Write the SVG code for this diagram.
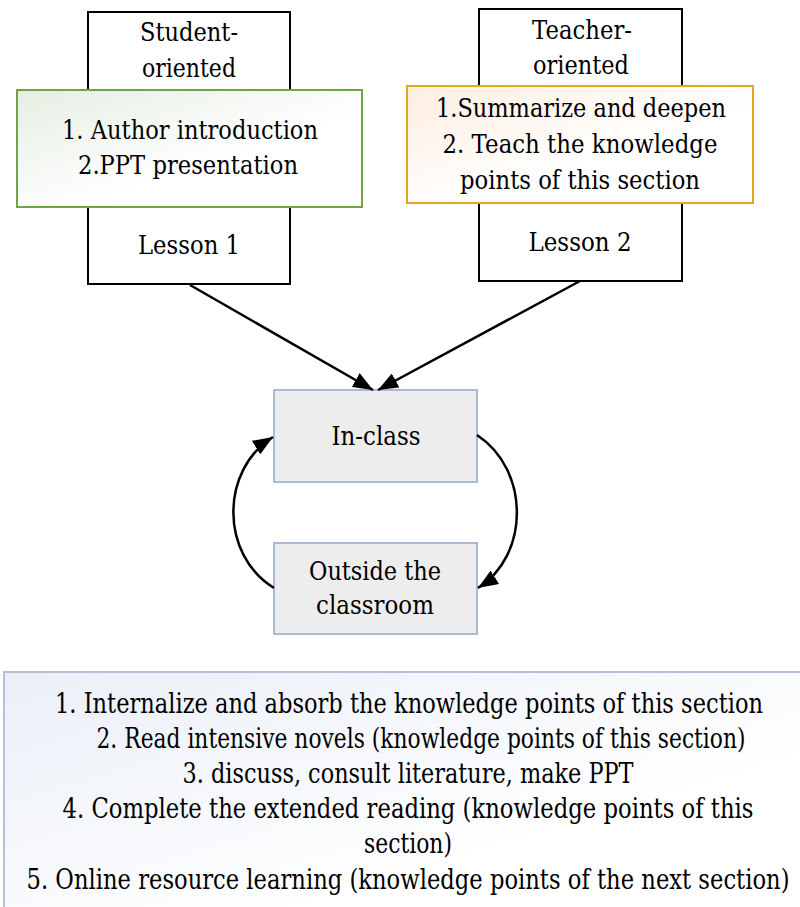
<svg xmlns="http://www.w3.org/2000/svg" width="800" height="907" viewBox="0 0 800 907">
<defs>
<linearGradient id="gGreen" x1="0" y1="0" x2="1" y2="1"><stop offset="0" stop-color="#e6eee2"/><stop offset="0.6" stop-color="#ffffff"/></linearGradient>
<linearGradient id="gOrange" x1="0" y1="0" x2="1" y2="1"><stop offset="0" stop-color="#fdeee0"/><stop offset="0.6" stop-color="#ffffff"/></linearGradient>
<linearGradient id="gBlue" x1="0" y1="0" x2="1" y2="1"><stop offset="0" stop-color="#eaeff7"/><stop offset="0.7" stop-color="#ffffff"/></linearGradient>
<marker id="ah2" viewBox="0 0 20 16" refX="20" refY="8" markerWidth="20" markerHeight="16" markerUnits="userSpaceOnUse" orient="auto">
<path d="M0,0 L20,8 L0,16 z" fill="#000"/>
</marker>
</defs>
<style>
text{font-family:'DejaVu Serif','Liberation Serif','Noto Serif',serif;font-size:26px;fill:#000;text-anchor:middle}
.blk{fill:#fff;stroke:#000;stroke-width:2}
.grey{fill:#ededed;stroke:#aabad3;stroke-width:2}
.con{fill:none;stroke:#000;stroke-width:2.5}
text.bt{font-size:27px}
</style>
<g id="student">
<rect class="blk" x="88" y="12" width="202" height="272"/>
<rect x="17" y="90" width="345" height="117" fill="url(#gGreen)" stroke="#6ea548" stroke-width="2"/>
<text x="189" y="41" textLength="98" lengthAdjust="spacingAndGlyphs">Student-</text>
<text x="189" y="77" textLength="94" lengthAdjust="spacingAndGlyphs">oriented</text>
<text x="190" y="139" textLength="256" lengthAdjust="spacingAndGlyphs">1. Author introduction</text>
<text x="188" y="174" textLength="220" lengthAdjust="spacingAndGlyphs">2.PPT presentation</text>
<text x="189" y="254" textLength="102" lengthAdjust="spacingAndGlyphs">Lesson 1</text>
</g>
<g id="teacher">
<rect class="blk" x="479" y="9" width="203" height="272"/>
<rect x="407" y="86" width="346" height="117" fill="url(#gOrange)" stroke="#e3a91c" stroke-width="2"/>
<text x="582" y="39" textLength="100" lengthAdjust="spacingAndGlyphs">Teacher-</text>
<text x="581" y="74" textLength="96" lengthAdjust="spacingAndGlyphs">oriented</text>
<text x="581" y="117" textLength="290" lengthAdjust="spacingAndGlyphs">1.Summarize and deepen</text>
<text x="580" y="153" textLength="275" lengthAdjust="spacingAndGlyphs">2. Teach the knowledge</text>
<text x="580" y="189" textLength="240" lengthAdjust="spacingAndGlyphs">points of this section</text>
<text x="580" y="251" textLength="103" lengthAdjust="spacingAndGlyphs">Lesson 2</text>
</g>
<g id="inclass">
<rect class="grey" x="274" y="390" width="203" height="92"/>
<text x="376" y="445" textLength="89" lengthAdjust="spacingAndGlyphs">In-class</text>
</g>
<g id="outside">
<rect class="grey" x="274" y="543" width="203" height="91"/>
<text x="375" y="580" textLength="132" lengthAdjust="spacingAndGlyphs">Outside the</text>
<text x="375" y="614" textLength="118" lengthAdjust="spacingAndGlyphs">classroom</text>
</g>
<g id="connectors">
<line class="con" x1="190" y1="285" x2="373" y2="390" marker-end="url(#ah2)"/>
<line class="con" x1="580" y1="281" x2="378" y2="390" marker-end="url(#ah2)"/>
<path class="con" d="M477,435 C530,470 530,555 478,588" marker-end="url(#ah2)"/>
<path class="con" d="M274,588 C220,555 220,470 273,437" marker-end="url(#ah2)"/>
</g>
<g id="notes">
<rect x="4" y="672" width="800" height="240" fill="url(#gBlue)" stroke="#b3c2da" stroke-width="2"/>
<text class="bt" x="409" y="713" textLength="708" lengthAdjust="spacingAndGlyphs">1. Internalize and absorb the knowledge points of this section</text>
<text class="bt" x="421" y="748" textLength="649" lengthAdjust="spacingAndGlyphs">2. Read intensive novels (knowledge points of this section)</text>
<text class="bt" x="408" y="783" textLength="451" lengthAdjust="spacingAndGlyphs">3. discuss, consult literature, make PPT</text>
<text class="bt" x="408" y="818" textLength="691" lengthAdjust="spacingAndGlyphs">4. Complete the extended reading (knowledge points of this</text>
<text class="bt" x="408" y="853" textLength="88" lengthAdjust="spacingAndGlyphs">section)</text>
<text class="bt" x="408" y="889" textLength="763" lengthAdjust="spacingAndGlyphs">5. Online resource learning (knowledge points of the next section)</text>
</g>
</svg>
